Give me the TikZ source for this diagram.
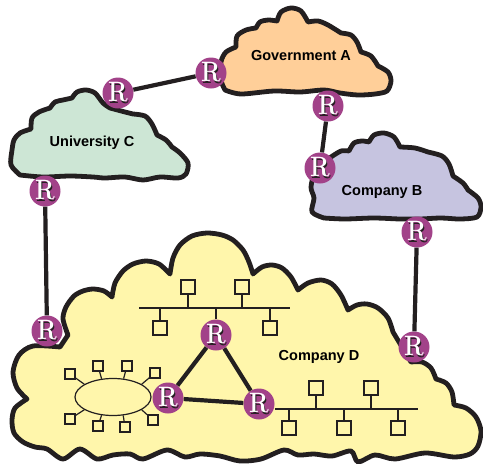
\documentclass[tikz,border=0pt]{standalone}
\usepackage{fontspec}
\usepackage{graphicx}
\usetikzlibrary{shapes.geometric}
\newfontfamily\labelfont{Liberation Sans}
\definecolor{govOrange}{HTML}{FFCF99}
\definecolor{uniGreen}{HTML}{CDE6D5}
\definecolor{compLav}{HTML}{C6C4E0}
\definecolor{compYellow}{HTML}{FFF6AB}
\definecolor{routerPurple}{HTML}{A24289}
\definecolor{inkBlack}{HTML}{231F20}
\newcommand{\routerGlyph}{\scalebox{0.9}[1.08]{\rlap{\color{inkBlack}\kern1pt\raisebox{-1pt}{R}}R}}
\tikzset{
  cloudline/.style={draw=inkBlack, line width=4.8pt, line join=round},
  router/.style={circle, fill=routerPurple, minimum size=31pt, inner sep=0pt, text=white, font=\fontsize{26}{26}\selectfont\bfseries},
  link/.style={draw=inkBlack, line width=4.2pt},
  lanbus/.style={draw=inkBlack, line width=2pt},
  host/.style={draw=inkBlack, line width=2pt, fill=compYellow, minimum size=14.5pt, inner sep=0pt},
  smallhost/.style={draw=inkBlack, line width=1.5pt, fill=compYellow, minimum size=10pt, inner sep=0pt},
  cloudlabel/.style={font=\labelfont\bfseries\fontsize{14.5}{14.5}\selectfont, text=black}
}
\begin{document}
\begin{tikzpicture}[x=1pt, y=-1pt]
        \useasboundingbox (0,0) rectangle (483,464);

        %% clouds
        \draw[cloudline, fill=uniGreen]
          plot [smooth] coordinates {(20,175) (11,165) (12,150) (14,140) (20,133) (31,129)}
          -- plot [smooth] coordinates {(31,129) (32,118) (39,112) (50,108)}
          -- plot [smooth] coordinates {(50,108) (55,102) (63,100) (72,98)}
          -- plot [smooth] coordinates {(72,98) (77,92) (86,90) (95,93) (103,103) (110,108)}
          -- plot [smooth] coordinates {(110,108) (125,112) (133,114)}
          -- plot [smooth] coordinates {(133,114) (145,116) (152,124) (157,135)}
          -- plot [smooth] coordinates {(157,135) (166,140) (172,147)}
          -- plot [smooth] coordinates {(172,147) (180,153) (188,163) (186,174) (178,178) (160,177) (143,180) (125,177) (105,178) (93,177) (70,176) (43,177) (20,175)}
          -- cycle;
        \draw[cloudline, fill=govOrange]
          plot [smooth] coordinates {(225,90) (221,80) (221,62) (226,52) (236,47)}
          -- plot [smooth] coordinates {(236,47) (237,36) (246,30) (256,28)}
          -- plot [smooth] coordinates {(256,28) (260,22) (268,20) (277,21)}
          -- plot [smooth] coordinates {(277,21) (281,12) (291,8) (301,11) (308,22)}
          -- plot [smooth] coordinates {(308,22) (318,21) (328,25) (341,33)}
          -- plot [smooth] coordinates {(341,33) (351,35) (357,42) (361,52)}
          -- plot [smooth] coordinates {(361,52) (371,56) (378,66)}
          -- plot [smooth] coordinates {(378,66) (388,72) (391,81) (387,91) (375,94) (358,95) (340,93) (324,90) (300,92) (274,91) (241,94) (225,90)}
          -- cycle;
        \draw[cloudline, fill=compLav]
          plot [smooth] coordinates {(324,218) (312,212) (314,198) (311,187) (316,170) (331,157)}
          -- plot [smooth] coordinates {(331,157) (341,151) (349,151)}
          -- plot [smooth] coordinates {(349,151) (354,143) (362,141) (369,142)}
          -- plot [smooth] coordinates {(369,142) (374,135) (384,133) (394,137) (400,147)}
          -- plot [smooth] coordinates {(400,147) (415,148) (428,152)}
          -- plot [smooth] coordinates {(428,152) (442,156) (449,164) (453,176)}
          -- plot [smooth] coordinates {(453,176) (463,183) (468,190)}
          -- plot [smooth] coordinates {(468,190) (478,198) (481,207) (477,217) (460,219) (441,218) (420,219) (400,219) (374,218) (345,219) (324,218)}
          -- cycle;
        \draw[cloudline, fill=compYellow]
          plot [smooth] coordinates {(27,399) (17,388) (13,372) (19,355) (33,346) (60,347)}
          -- plot [smooth] coordinates {(68,335) (63,319) (66,307) (74,296) (83,291) (93,289) (104,291) (112,297)}
          -- plot [smooth] coordinates {(112,297) (115,283) (123,271) (133,264) (146,261) (159,264) (170,274)}
          -- plot [smooth] coordinates {(170,274) (173,258) (180,245) (192,236) (207,233) (222,235) (233,240) (243,250) (249,262) (253,274)}
          -- plot [smooth] coordinates {(253,274) (262,267) (272,265) (282,268) (291,277) (298,290)}
          -- plot [smooth] coordinates {(298,290) (308,283) (321,280) (332,284) (341,295) (348,310)}
          -- plot [smooth] coordinates {(348,310) (357,305) (367,304) (378,308) (388,318) (393,332)}
          -- plot [smooth] coordinates {(411,362) (422,362) (431,368) (436,379)}
          -- plot [smooth] coordinates {(436,379) (446,383) (452,392) (454,405)}
          -- plot [smooth] coordinates {(454,405) (466,408) (476,417) (481,431) (478,446) (470,454) (454,457) (425,453) (395,459) (375,455) (358,462) (351,451) (332,456) (314,454) (298,455) (284,450) (261,459) (240,461) (220,456) (200,454) (185,457) (167,450) (143,459) (130,454) (113,455) (97,459) (80,449) (63,459) (47,449) (35,447) (23,442) (14,433) (12,420) (15,408) (27,399)}
          -- cycle;

        %% routers
        \node[router] (routerGovUni) at (211,73) {\routerGlyph};
        \node[router] (routerUniGov) at (118,93) {\routerGlyph};
        \node[router] (routerUniD) at (45,191) {\routerGlyph};
        \node[router] (routerGovB) at (328,106) {\routerGlyph};
        \node[router] (routerBGov) at (320,168) {\routerGlyph};
        \node[router] (routerBD) at (417,232) {\routerGlyph};
        \node[router] (routerDB) at (414,347) {\routerGlyph};
        \node[router] (routerDUni) at (47,331) {\routerGlyph};
        \node[router] (routerTop) at (216,335) {\routerGlyph};
        \node[router] (routerRing) at (168,398) {\routerGlyph};
        \node[router] (routerLow) at (259,404) {\routerGlyph};

        %% links
        \draw[link] (routerGovUni) -- (routerUniGov);
        \draw[link] (routerGovB) -- (routerBGov);
        \draw[link] (routerUniD) -- (routerDUni);
        \draw[link] (routerBD) -- (routerDB);
        \draw[link] (routerTop) -- (routerRing);
        \draw[link] (routerTop) -- (routerLow);
        \draw[link] (routerRing) -- (routerLow);

        %% upper lan
        \coordinate (busTopL) at (139,308);
        \coordinate (busTopR) at (290,308);
        \node[host] (hostTopA) at (188,287) {};
        \node[host] (hostTopB) at (242,287) {};
        \node[host] (hostTopC) at (160,328) {};
        \node[host] (hostTopD) at (270,328) {};
        \draw[lanbus] (busTopL) -- (busTopR);
        \foreach \hostname in {hostTopA,hostTopB,hostTopC,hostTopD,routerTop}
          \draw[lanbus] (\hostname) -- (\hostname |- busTopL);

        %% lower lan
        \coordinate (busLowR) at (418,409);
        \node[host] (hostLowA) at (316,388) {};
        \node[host] (hostLowB) at (371,388) {};
        \node[host] (hostLowC) at (289,428) {};
        \node[host] (hostLowD) at (344,428) {};
        \node[host] (hostLowE) at (398,428) {};
        \draw[lanbus] (routerLow.east |- busLowR) -- (busLowR);
        \foreach \hostname in {hostLowA,hostLowB,hostLowC,hostLowD,hostLowE}
          \draw[lanbus] (\hostname) -- (\hostname |- busLowR);

        %% ring
        \node[ellipse, draw=inkBlack, line width=1.2pt, minimum width=76pt, minimum height=37pt, inner sep=0pt] (ringNet) at (113,397) {};
        \foreach \hostname/\hostpos/\ringangle in {a/{(70,374)}/156, b/{(98,366)}/122, c/{(127,366)}/60, d/{(155,373)}/24, e/{(70,419)}/204, f/{(98,426)}/238, g/{(125,427)}/-61, h/{(153,420)}/-24}{
          \node[smallhost] (ringHost\hostname) at \hostpos {};
          \draw[line width=1.2pt, draw=inkBlack] (ringHost\hostname) -- (ringNet.\ringangle);
        }

        %% labels
        \node[cloudlabel] (labelGov) at (301,56) {Government A};
        \node[cloudlabel] (labelUni) at (92,143) {University C};
        \node[cloudlabel] (labelB) at (382,192) {Company B};
        \node[cloudlabel] (labelD) at (319,357) {Company D};
    \end{tikzpicture}
\end{document}
